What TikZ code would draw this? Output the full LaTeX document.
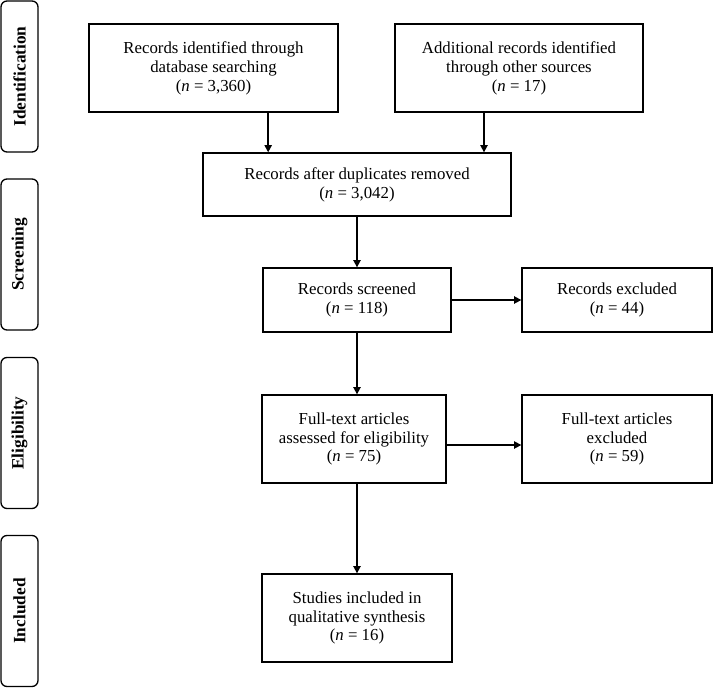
\documentclass[tikz,border=0pt]{standalone}
\usepackage{fontspec}
\setmainfont{Liberation Serif}
\usetikzlibrary{arrows.meta, positioning, calc}

\begin{document}
\begin{tikzpicture}[
  x=0.75pt, y=-0.75pt,
  font=\fontsize{12.6}{14.2}\selectfont,
  box/.style={draw, line width=1pt, align=center, inner sep=3pt, minimum height=66pt},
  stagebox/.style={draw, line width=1pt, rounded corners=4.5pt, minimum width=27.75pt, minimum height=113.25pt, inner sep=0pt},
  stagetext/.style={rotate=90, font=\fontsize{13}{14}\selectfont\bfseries},
  arrow/.style={-{Triangle[length=5.5pt, width=5.5pt]}, line width=1.2pt}
]
\useasboundingbox (0,0) rectangle (714,689);

% stages on the left
\node[stagebox] (ident) at (19.5,76.5) {};
\node[stagetext] at (ident) {Identification};
\node[stagebox] (screen) at (19.5,254.5) {};
\node[stagetext] at (screen) {Screening};
\node[stagebox] (elig) at (19.5,433) {};
\node[stagetext] at (elig) {Eligibility};
\node[stagebox] (incl) at (19.5,611) {};
\node[stagetext] at (incl) {Included};

% flow boxes
\node[box, minimum width=186.75pt] (db) at (213.5,68) {
  Records identified through\\
  database searching\\
  (\textit{n} = 3,360)
};
\node[box, minimum width=186pt] (other) at (519,68) {
  Additional records identified\\
  through other sources\\
  (\textit{n} = 17)
};
\node[box, minimum width=231pt, minimum height=47.25pt] (dup) at (357,184.5) {
  Records after duplicates removed\\
  (\textit{n} = 3,042)
};
\node[box, minimum width=141pt, minimum height=48pt] (screened) at (357,300) {
  Records screened\\
  (\textit{n} = 118)
};
\node[box, minimum width=142.5pt, minimum height=48pt] (excluded) at (617,300) {
  Records excluded\\
  (\textit{n} = 44)
};
\node[box, minimum width=138pt] (fulltext) at (354,439) {
  Full-text articles\\
  assessed for eligibility\\
  (\textit{n} = 75)
};
\node[box, minimum width=142.5pt] (fullexcl) at (617,439) {
  Full-text articles\\
  excluded\\
  (\textit{n} = 59)
};
\node[box, minimum width=142.5pt] (studies) at (357,618) {
  Studies included in\\
  qualitative synthesis\\
  (\textit{n} = 16)
};

% connectors
\draw[arrow] ([xshift=41pt]db.south) -- ([xshift=41pt]db.south |- dup.north);
\draw[arrow] ([xshift=-26.25pt]other.south) -- ([xshift=-26.25pt]other.south |- dup.north);
\draw[arrow] (dup.south) -- (dup.south |- screened.north);
\draw[arrow] (screened.east) -- (excluded.west);
\draw[arrow] (screened.south) -- (screened.south |- fulltext.north);
\draw[arrow] ([yshift=-4.5pt]fulltext.east) -- ([yshift=-4.5pt]fulltext.east -| fullexcl.west);
\draw[arrow] (studies.north |- fulltext.south) -- (studies.north);
\end{tikzpicture}
\end{document}
